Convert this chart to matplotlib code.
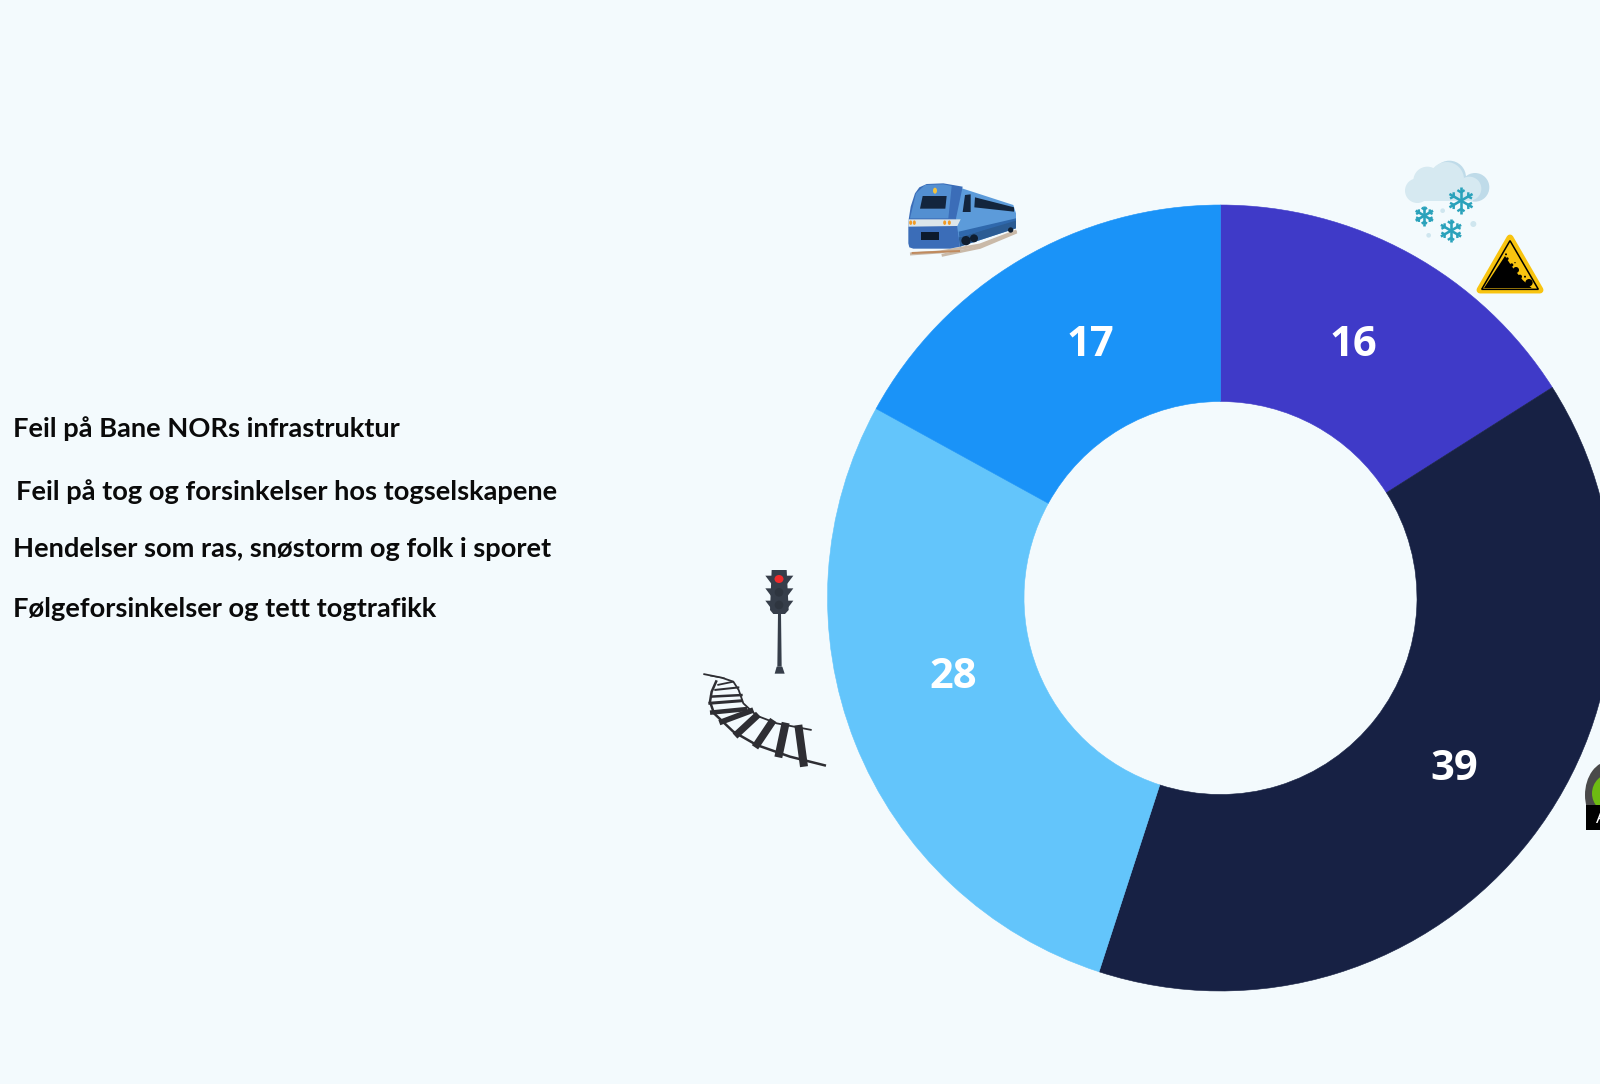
import numpy as np
import matplotlib
matplotlib.use('Agg')
import matplotlib.pyplot as plt
from matplotlib.patches import Polygon, Circle, Ellipse, Rectangle

W, H = 1600, 1084
BG = '#F3FAFD'

# data
values = [16, 39, 28, 17]
colors = ['#3F3AC8', '#172144', '#63C5FB', '#1A93F8']
legend_labels = ['Feil på Bane NORs infrastruktur',
                 'Feil på tog og forsinkelser hos togselskapene',
                 'Hendelser som ras, snøstorm og folk i sporet',
                 'Følgeforsinkelser og tett togtrafikk']

# layout, in image pixels
legend_x = [13, 16, 13, 13]
legend_y = [437, 500, 557, 617]
label_xy = [(1353, 345), (1454, 769), (953, 677), (1090, 345)]

fig = plt.figure(figsize=(16, 10.84), dpi=100, facecolor=BG)
ax = fig.add_axes([0, 0, 1, 1])
wedges, _ = ax.pie(values, colors=colors, startangle=90, counterclock=False,
                   center=(1220.5, H - 598), radius=393,
                   wedgeprops=dict(width=196.5, linewidth=0))
for w in wedges:
    w.set_edgecolor(w.get_facecolor())
    w.set_linewidth(0.4)
ax.set_xlim(0, W)
ax.set_ylim(0, H)
ax.set_aspect('equal')
ax.axis('off')


def zoomed(ox, oy):
    return lambda x, y: (ox + x / 3, H - (oy + y / 3))


def poly(z, pts, c, zorder=3, **kw):
    ax.add_patch(Polygon([z(*p) for p in pts], closed=True, fc=c, ec='none', zorder=zorder, **kw))


def line(z, pts, c, w, zorder=3):
    xy = np.array([z(*p) for p in pts])
    ax.plot(xy[:, 0], xy[:, 1], c=c, lw=w * 0.72, zorder=zorder,
            solid_capstyle='butt', solid_joinstyle='round')


def circ(z, x, y, r, c, zorder=3):
    ax.add_patch(Circle(z(x, y), r / 3, fc=c, ec='none', zorder=zorder))


# train
z = zoomed(880, 150)
line(z, [(90, 312), (180, 306), (300, 285), (410, 243)], '#C9B9A8', 3)
line(z, [(185, 316), (300, 292), (410, 246)], '#C9B9A8', 3)
line(z, [(95, 309), (240, 303)], '#C08A5E', 2)
poly(z, [(215, 105), (400, 165), (408, 190), (408, 235), (240, 290), (215, 200)], '#5C9BDA')
poly(z, [(240, 290), (236, 262), (408, 208), (408, 235)], '#2B5C94', zorder=4)
poly(z, [(236, 245), (408, 205), (408, 212), (238, 262)], '#2F68AC', zorder=4)
poly(z, [(85, 280), (85, 215), (92, 170), (105, 130), (118, 112), (140, 102), (190, 100), (248, 110),
         (228, 205), (240, 290), (210, 296), (100, 296), (88, 292)], '#3B6DB8', zorder=5)
poly(z, [(108, 130), (135, 105), (190, 103), (215, 108), (205, 205), (90, 205)], '#5C9BDA', zorder=5, alpha=0.75)
poly(z, [(128, 138), (200, 138), (196, 176), (120, 176)], '#13253D', zorder=6)
poly(z, [(255, 135), (272, 133), (272, 186), (248, 186)], '#13253D', zorder=6)
poly(z, [(285, 142), (402, 172), (402, 185), (283, 172)], '#13253D', zorder=6)
poly(z, [(85, 208), (242, 208), (232, 228), (85, 230)], '#DCE6EA', zorder=6)
poly(z, [(122, 246), (177, 246), (177, 270), (122, 270)], '#0C1A2C', zorder=6)
ax.add_patch(Ellipse(z(165, 122), 4, 6, fc='#F5C33B', ec='none', zorder=6))
for x in [92, 103, 194, 208]:
    ax.add_patch(Ellipse(z(x, 218), 3, 4.5, fc='#F29B25', ec='none', zorder=7))
circ(z, 258, 272, 14, '#0F1E30', zorder=6)
circ(z, 282, 265, 12, '#0F1E30', zorder=6)
circ(z, 392, 240, 8, '#0F1E30', zorder=6)

# snow cloud
z = zoomed(1390, 150)
circ(z, 178, 82, 50, '#BFDBE9')
circ(z, 255, 112, 43, '#BFDBE9')
for x, y, r in [(82, 122, 37), (112, 92, 42), (170, 88, 52), (238, 116, 36)]:
    circ(z, x, y, r, '#D6E9F1', zorder=4)
ax.add_patch(Rectangle(z(80, 152), 170 / 3, 50 / 3, fc='#D6E9F1', ec='none', zorder=4))
for x, y, r in [(158, 182, 7), (250, 222, 9), (116, 256, 7)]:
    circ(z, x, y, r, '#CFE6EF')
for x, y, r in [(213, 152, 40), (103, 197, 30), (183, 242, 35)]:
    for a in np.arange(6) * np.pi / 3 + np.pi / 2:
        ca, sa = np.cos(a), np.sin(a)
        tip = (x + r * ca, y + r * sa)
        line(z, [(x, y), tip], '#2AA2BB', 2.6, zorder=5)
        for b in [0.5, -0.5]:
            bx, by = x + 0.62 * r * ca, y + 0.62 * r * sa
            line(z, [(bx, by), (bx + 0.32 * r * np.cos(a + b * 2), by + 0.32 * r * np.sin(a + b * 2))],
                 '#2AA2BB', 2.4, zorder=5)

# rockfall sign
tri = [(360, 264), (450, 420), (270, 420)]
ax.add_patch(Polygon([z(*p) for p in tri], closed=True, fc='#F8C410', ec='#F8C410', lw=5,
                     joinstyle='round', zorder=5))
ax.add_patch(Polygon([z(*p) for p in [(360, 272), (445, 418), (275, 418)]], closed=True, fc='#F8C410',
                     ec='black', lw=1.1, zorder=6))
poly(z, [(345, 318), (282, 414), (425, 414), (398, 390), (366, 350)], 'black', zorder=7)
for x, y, r in [(417, 398, 11), (390, 380, 6), (378, 360, 9), (365, 345, 5), (352, 326, 4),
                (348, 313, 3), (405, 380, 3), (375, 338, 2)]:
    circ(z, x, y, r, 'black', zorder=7)

# traffic light
z = zoomed(690, 555)
tl = '#363E4A'
poly(z, [(245, 45), (290, 45), (296, 165), (285, 177), (250, 177), (240, 165)], tl)
for y in [62, 100, 137]:
    poly(z, [(226, y), (310, y), (292, y + 24), (244, y + 24)], tl)
poly(z, [(264, 175), (273, 175), (275, 335), (262, 335)], tl)
poly(z, [(260, 335), (277, 335), (284, 356), (254, 356)], tl)
ax.add_patch(Ellipse(z(267, 72), 9, 8, fc='#F02B2B', ec='none', zorder=4))
circ(z, 267, 112, 13, '#2E353F', zorder=4)
circ(z, 267, 150, 13, '#2E353F', zorder=4)

# track
rail = '#2E2E33'
sleepers = [((325, 510), (342, 635), 8), ((287, 503), (265, 607), 8), ((250, 495), (195, 577), 7.5),
            ((205, 478), (135, 543), 7), ((190, 465), (88, 503), 5.5), ((172, 462), (60, 473), 4.5),
            ((158, 437), (55, 445), 3), ((158, 420), (60, 425), 2.5), ((148, 397), (73, 405), 2),
            ((130, 380), (82, 390), 1.8), ((105, 370), (60, 362), 1.2)]
for a, b, w in sleepers:
    line(z, [a, b], rail, w)
line(z, [(40, 357), (95, 368), (130, 380), (146, 405), (160, 445), (200, 482), (260, 505), (365, 525)], rail, 1.8)
line(z, [(80, 376), (65, 410), (60, 440), (72, 475), (130, 530), (200, 570), (300, 605), (408, 632)], rail, 2.5)

# gauge, cut off by the image edge
z = zoomed(1520, 730)
ax.add_patch(Ellipse(z(270, 195), 50, 68, fc='#4A4A4A', ec='none', zorder=3))
ax.add_patch(Ellipse(z(276, 190), 40, 40, fc='#6DBB12', ec='none', zorder=4))
ax.add_patch(Rectangle(z(197, 300), 100, 25, fc='black', ec='none', zorder=5))
ax.text(*z(228, 278), 'A', color='white', fontsize=13, family='Open Sans', zorder=6, clip_on=True)

# legend text, no colour keys in the picture
for t, x, y in zip(legend_labels, legend_x, legend_y):
    ax.text(x, H - y, t, fontsize=19.6, family='Lato', fontweight='bold', color='#0A0A0A', va='baseline')

for v, (x, y) in zip(values, label_xy):
    ax.text(x, H - y, str(v), color='white', fontsize=30, family='Open Sans', fontweight='bold',
            ha='center', va='center', zorder=8)

fig.savefig('out.png', dpi=100, facecolor=BG)
